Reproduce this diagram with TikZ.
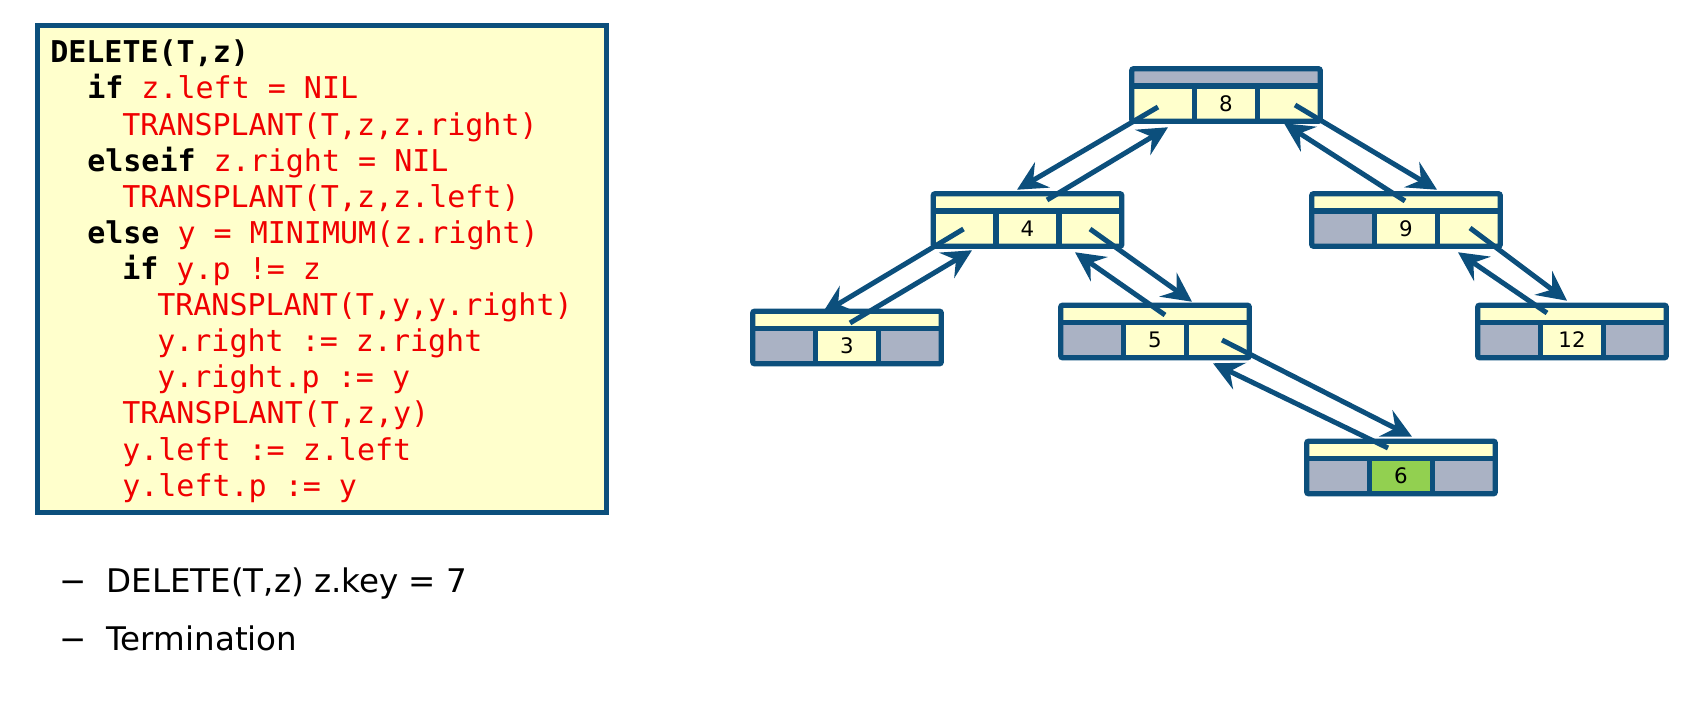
\documentclass[tikz,border=0pt]{standalone}
\usepackage{fontspec}
\usepackage{xcolor}
\usetikzlibrary{calc,arrows.meta}
\setmainfont{DejaVu Sans}
\newfontfamily\codefont{DejaVu Sans Mono}

\definecolor{treeblue}{RGB}{12,79,124}
\definecolor{celly}{RGB}{255,255,204}
\definecolor{cellg}{RGB}{170,178,196}
\definecolor{keygreen}{RGB}{146,208,80}
\definecolor{codered}{RGB}{240,0,0}

\newcommand{\kw}[1]{{\bfseries\color{black}#1}}

% tree node: name, centre, key, top fill, left fill, key fill, right fill
\newcommand{\bstnode}[7]{%
  \path (#2) node[bstshape] (#1) {};
  \fill[#4] (#1.north west) rectangle ($(#1.east)+(0,-9)$);
  \fill[#5] ($(#1.west)+(0,-9)$) rectangle ($(#1.south west)+(62.67,0)$);
  \fill[#6] ($(#1.west)+(62.67,-9)$) rectangle ($(#1.south east)+(-62.67,0)$);
  \fill[#7] ($(#1.east)+(-62.67,-9)$) rectangle (#1.south east);
  \draw[cellline, rounded corners=1.5pt] (#1.north west) rectangle (#1.south east);
  \draw[cellline] ($(#1.west)+(0,-9)$) -- ($(#1.east)+(0,-9)$);
  \draw[cellline] ($(#1.west)+(62.67,-9)$) -- ($(#1.south west)+(62.67,0)$);
  \draw[cellline] ($(#1.east)+(-62.67,-9)$) -- ($(#1.south east)+(-62.67,0)$);
  \path ($(#1.center)+(0,8.5)$) node[keytext] (#1-key) {#3};
}

\tikzset{
  codebox/.style={draw=treeblue, fill=celly, line width=3.75pt, minimum width=426.75pt, minimum height=365.25pt, inner sep=0pt},
  codeline/.style={anchor=base west, inner sep=0pt, text=codered, font=\codefont\fontsize{22.5}{26}\selectfont},
  bullettext/.style={anchor=base west, inner sep=0pt, font=\fontsize{24.4}{28}\selectfont},
  bstshape/.style={rectangle, minimum width=141pt, minimum height=39pt, inner sep=0pt},
  cellline/.style={draw=treeblue, line width=4pt},
  keytext/.style={inner sep=0pt, font=\fontsize{16}{18}\selectfont},
  ptr/.style={draw=treeblue, line width=3.75pt, -{Stealth[length=22pt, width=22pt, inset=8pt]}}
}

\begin{document}
\begin{tikzpicture}[x=0.75pt,y=0.75pt,yscale=-1]
\useasboundingbox (0,0) rectangle (1706,702);

% Code box
\node[codebox] (code) at (322,269) {};

% Text Node
\draw (50,63) node[codeline] (l0) {\kw{DELETE(T,z)}};
% Text Node
\draw (87,99) node[codeline] (l1) {\kw{if} z.left = NIL};
% Text Node
\draw (122,135.1) node[codeline] (l2) {TRANSPLANT(T,z,z.right)};
% Text Node
\draw (87,171.2) node[codeline] (l3) {\kw{elseif} z.right = NIL};
% Text Node
\draw (122,207.3) node[codeline] (l4) {TRANSPLANT(T,z,z.left)};
% Text Node
\draw (87,243.4) node[codeline] (l5) {\kw{else} y = MINIMUM(z.right)};
% Text Node
\draw (122,279.5) node[codeline] (l6) {\kw{if} y.p != z};
% Text Node
\draw (157,315.6) node[codeline] (l7) {TRANSPLANT(T,y,y.right)};
% Text Node
\draw (157,351.7) node[codeline] (l8) {y.right := z.right};
% Text Node
\draw (157,387.8) node[codeline] (l9) {y.right.p := y};
% Text Node
\draw (122,423.9) node[codeline] (l10) {TRANSPLANT(T,z,y)};
% Text Node
\draw (122,460) node[codeline] (l11) {y.left := z.left};
% Text Node
\draw (122,496.1) node[codeline] (l12) {y.left.p := y};

% Text Node
\draw (59,592) node[bullettext] (b1) {−\hspace{15pt}DELETE(T,z) z.key = 7};
% Text Node
\draw (59,650) node[bullettext] (b2) {−\hspace{15pt}Termination};

% Tree nodes
\bstnode{n8}{1226,95}{8}{cellg}{celly}{celly}{celly}
\bstnode{n4}{1027.5,220}{4}{celly}{celly}{celly}{celly}
\bstnode{n9}{1406,220}{9}{celly}{cellg}{celly}{celly}
\bstnode{n3}{847,337.5}{3}{celly}{cellg}{celly}{cellg}
\bstnode{n5}{1155,331.5}{5}{celly}{cellg}{celly}{celly}
\bstnode{n12}{1572,331.5}{12}{celly}{cellg}{celly}{cellg}
\bstnode{n6}{1401,467.5}{6}{celly}{cellg}{keygreen}{cellg}

% Child pointers
\draw[ptr] ($(n8.center)+(-68,12)$) -- ($(n4.north)+(-10.5,-4)$);
\draw[ptr] ($(n4.center)+(-64,9)$) -- ($(n3.north)+(-25,2.5)$);
\draw[ptr] ($(n4.center)+(62.5,9)$) -- ($(n5.north)+(37,-3.5)$);
\draw[ptr] ($(n8.center)+(69,10)$) -- ($(n9.north)+(31,-4)$);
\draw[ptr] ($(n9.center)+(64,8)$) -- ($(n12.north)+(-5,-4.5)$);
\draw[ptr] ($(n5.center)+(67,8.5)$) -- ($(n6.north)+(11,-4.5)$);

% Parent pointers
\draw[ptr] ($(n4.center)+(19.5,-20)$) -- ($(n8.south)+(-58,6)$);
\draw[ptr] ($(n3.center)+(3,-14.5)$) -- ($(n4.south)+(-55.5,4)$);
\draw[ptr] ($(n5.center)+(10,-16.5)$) -- ($(n4.south)+(47.5,6)$);
\draw[ptr] ($(n9.center)+(-1,-19)$) -- ($(n8.south)+(58,2)$);
\draw[ptr] ($(n12.center)+(-25,-18.5)$) -- ($(n9.south)+(52,6)$);
\draw[ptr] ($(n6.center)+(-13,-19.5)$) -- ($(n5.south)+(58,5.5)$);

\end{tikzpicture}
\end{document}
